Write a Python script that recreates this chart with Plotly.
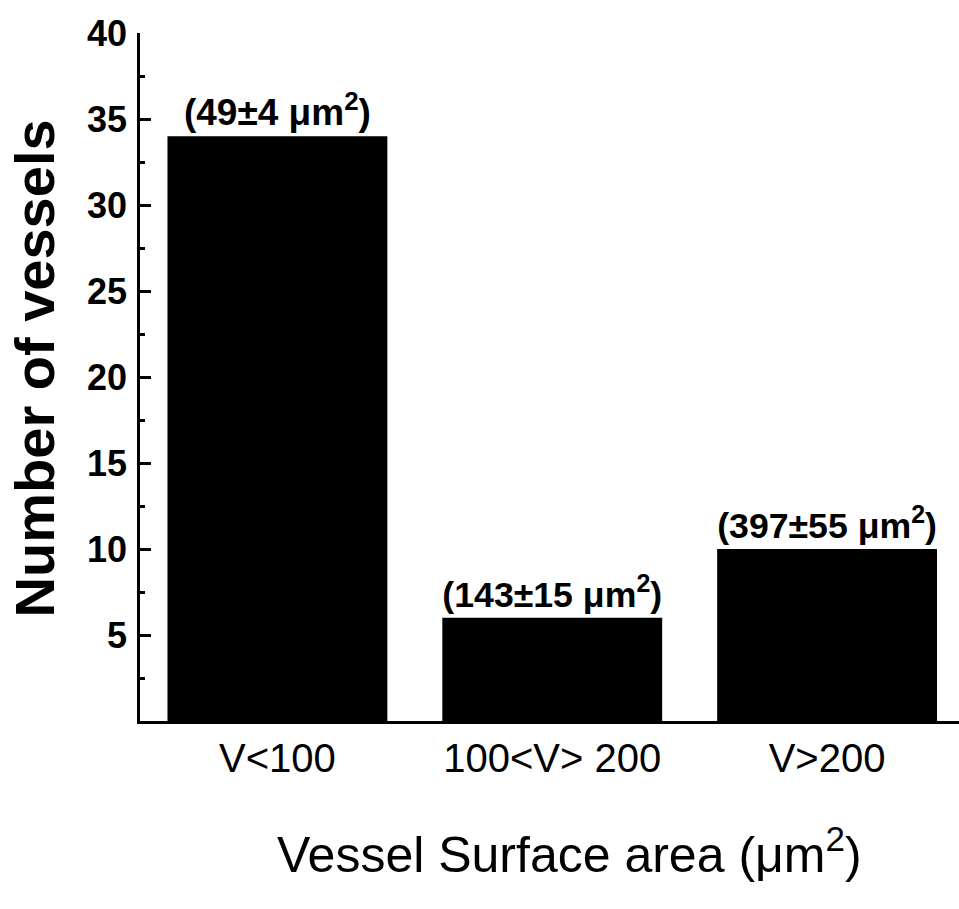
import plotly.graph_objects as go

categories = ["V<100", "100<V> 200", "V>200"]
counts = [34, 6, 10]
bar_labels = ["(49±4 μm<sup>2</sup>)", "(143±15 μm<sup>2</sup>)", "(397±55 μm<sup>2</sup>)"]
y_ticks = [5, 10, 15, 20, 25, 30, 35, 40]
y_minor = [2.5, 7.5, 12.5, 17.5, 22.5, 27.5, 32.5, 37.5]

FONT = "Liberation Sans, Arial, sans-serif"

fig = go.Figure()
fig.add_trace(go.Bar(
    x=[0, 1, 2], y=counts, width=0.8,
    marker=dict(color="black", line=dict(width=0)),
    text=bar_labels, textposition="outside",
    textfont=dict(family=FONT, size=37, color="black", weight="bold"),
    cliponaxis=False,
))

fig.update_layout(
    width=959, height=909,
    margin=dict(l=140, r=0, t=33, b=188),
    paper_bgcolor="white", plot_bgcolor="white",
    showlegend=False,
    xaxis=dict(
        range=[-0.5, 2.48], tickmode="array", tickvals=[0, 1, 2], ticktext=categories,
        ticks="", showgrid=False, zeroline=False,
        showline=True, linecolor="black", linewidth=2.5,
        tickfont=dict(family=FONT, size=40, color="black"),
        ticklabelstandoff=0,
    ),
    yaxis=dict(
        range=[0, 40], tickmode="array", tickvals=y_ticks,
        ticks="inside", ticklen=11, tickwidth=2.5, tickcolor="black",
        showgrid=False, zeroline=False,
        showline=True, linecolor="black", linewidth=2.5,
        tickfont=dict(family=FONT, size=36, color="black", weight="bold"),
        ticklabelstandoff=3,
        minor=dict(tickmode="array", tickvals=y_minor, ticks="inside", ticklen=5,
                   tickwidth=2.5, tickcolor="black"),
    ),
    annotations=[
        dict(text="Number of vessels", xref="paper", yref="paper", x=-0.129, y=0.513,
             textangle=-90, showarrow=False, xanchor="center", yanchor="middle",
             font=dict(family=FONT, size=56, color="black", weight="bold")),
        dict(text="Vessel Surface area (μm<sup>2</sup>)", xref="paper", yref="paper",
             x=0.524, y=-0.189, showarrow=False, xanchor="center", yanchor="middle",
             font=dict(family=FONT, size=50, color="black")),
    ],
)

fig.write_html("out.html", config={"displayModeBar": False},
               post_script="document.body.style.margin='0';")
